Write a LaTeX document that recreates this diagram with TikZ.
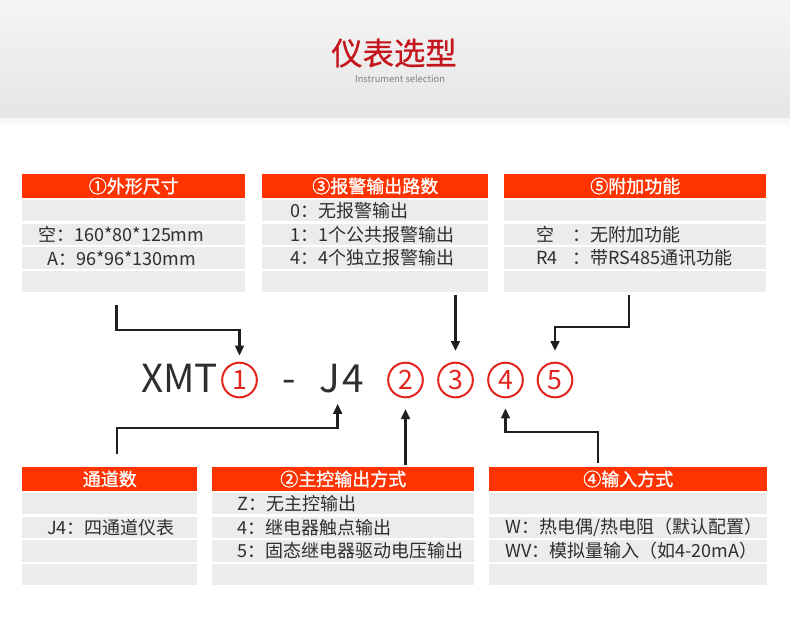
\documentclass[tikz,border=0pt]{standalone}
\usepackage{fontspec}
\setmainfont{Noto Sans CJK SC}
\newfontfamily\selheadfont[FakeBold=1.2]{Noto Sans CJK SC}
\newfontfamily\seltitlefont[FakeBold=0.6]{Noto Sans CJK SC}
\usepackage{tikz}
\usetikzlibrary{positioning,arrows.meta}
\definecolor{hdrred}{HTML}{FF3300}
\definecolor{rowgray}{HTML}{ECECEC}
\definecolor{textdark}{HTML}{2E2E2E}
\definecolor{titlered}{HTML}{C4161C}
\definecolor{subgray}{HTML}{808080}
\definecolor{circred}{HTML}{E3231E}
\definecolor{arrowblack}{HTML}{1F1F1F}

\begin{document}
\begin{tikzpicture}[x=0.75pt, y=-0.75pt,
  selhead/.style={rectangle, fill=hdrred, text=white, minimum height=17.6pt, inner sep=0pt, font={\selheadfont\fontsize{13.5}{15}\selectfont}},
  selrow/.style={rectangle, fill=rowgray, minimum height=16pt, inner sep=0pt},
  seltext/.style={inner sep=0pt, text=textdark, font={\fontsize{13.5}{15}\selectfont}},
  codetext/.style={inner sep=0pt, text=textdark, font={\fontsize{29}{31}\selectfont}},
  codecirc/.style={circle, draw=circred, line width=1.5pt, text=circred, minimum size=26pt, inner sep=0pt, font={\fontsize{20}{22}\selectfont}},
  selarrow/.style={draw=arrowblack, line width=2pt, -{Triangle[length=7.5pt,width=6.5pt]}}
]
\useasboundingbox (0,0) rectangle (790,640);
\fill[top color=gray!8, bottom color=gray!20] (0,0) rectangle (790,118);
\fill[top color=gray!8, bottom color=white] (0,118) rectangle (790,127);
\node[text=titlered, font={\seltitlefont\fontsize{23.5}{26}\selectfont}] (title) at (394,53) {仪表选型};
\node[text=subgray, font={\fontsize{7}{8}\selectfont}] (subtitle) at (400,79) {Instrument selection};

\node[selhead, minimum width=167.25pt, anchor=north west] (hA) at (22,174) {①外形尺寸};
\node[selrow, minimum width=167.25pt, below=1.35pt of hA] (rA1) {};
\node[selrow, minimum width=167.25pt, below=1.35pt of rA1] (rA2) {};
\node[selrow, minimum width=167.25pt, below=1.35pt of rA2] (rA3) {};
\node[selrow, minimum width=167.25pt, below=1.35pt of rA3] (rA4) {};
\node[seltext, right=12pt of rA2.west] (tA2) {空：160*80*125mm};
\node[seltext, right=18.75pt of rA3.west] (tA3) {A：96*96*130mm};

\node[selhead, minimum width=169.5pt, anchor=north west] (hC) at (262,174) {③报警输出路数};
\node[selrow, minimum width=169.5pt, below=1.35pt of hC] (rC1) {};
\node[selrow, minimum width=169.5pt, below=1.35pt of rC1] (rC2) {};
\node[selrow, minimum width=169.5pt, below=1.35pt of rC2] (rC3) {};
\node[selrow, minimum width=169.5pt, below=1.35pt of rC3] (rC4) {};
\node[seltext, right=21pt of rC1.west] (tC1) {0：无报警输出};
\node[seltext, right=21pt of rC2.west] (tC2) {1：1个公共报警输出};
\node[seltext, right=21pt of rC3.west] (tC3) {4：4个独立报警输出};

\node[selhead, minimum width=196.5pt, anchor=north west] (hE) at (504,174) {⑤附加功能};
\node[selrow, minimum width=196.5pt, below=1.35pt of hE] (rE1) {};
\node[selrow, minimum width=196.5pt, below=1.35pt of rE1] (rE2) {};
\node[selrow, minimum width=196.5pt, below=1.35pt of rE2] (rE3) {};
\node[selrow, minimum width=196.5pt, below=1.35pt of rE3] (rE4) {};
\node[seltext, right=24pt of rE2.west] (tE2) {\makebox[27pt][l]{空}：无附加功能};
\node[seltext, right=24pt of rE3.west] (tE3) {\makebox[27pt][l]{R4}：带RS485通讯功能};

\node[selhead, minimum width=131.25pt, anchor=north west] (hB) at (22,467) {通道数};
\node[selrow, minimum width=131.25pt, below=1.35pt of hB] (rB1) {};
\node[selrow, minimum width=131.25pt, below=1.35pt of rB1] (rB2) {};
\node[selrow, minimum width=131.25pt, below=1.35pt of rB2] (rB3) {};
\node[selrow, minimum width=131.25pt, below=1.35pt of rB3] (rB4) {};
\node[seltext, right=18.75pt of rB2.west] (tB2) {J4：四通道仪表};

\node[selhead, minimum width=196.5pt, anchor=north west] (hD) at (212,467) {②主控输出方式};
\node[selrow, minimum width=196.5pt, below=1.35pt of hD] (rD1) {};
\node[selrow, minimum width=196.5pt, below=1.35pt of rD1] (rD2) {};
\node[selrow, minimum width=196.5pt, below=1.35pt of rD2] (rD3) {};
\node[selrow, minimum width=196.5pt, below=1.35pt of rD3] (rD4) {};
\node[seltext, right=18.75pt of rD1.west] (tD1) {Z：无主控输出};
\node[seltext, right=18.75pt of rD2.west] (tD2) {4：继电器触点输出};
\node[seltext, right=18.75pt of rD3.west] (tD3) {5：固态继电器驱动电压输出};

\node[selhead, minimum width=208.5pt, anchor=north west] (hF) at (489,467) {④输入方式};
\node[selrow, minimum width=208.5pt, below=1.35pt of hF] (rF1) {};
\node[selrow, minimum width=208.5pt, below=1.35pt of rF1] (rF2) {};
\node[selrow, minimum width=208.5pt, below=1.35pt of rF2] (rF3) {};
\node[selrow, minimum width=208.5pt, below=1.35pt of rF3] (rF4) {};
\node[seltext, right=12pt of rF2.west] (tF2) {W：热电偶/热电阻（默认配置）};
\node[seltext, right=12pt of rF3.west] (tF3) {WV：模拟量输入（如4-20mA）};

\node[codetext, anchor=base west] (xmt) at (141,392) {XMT};
\node[codetext, anchor=base] (dash) at (289,392) {-};
\node[codetext, anchor=base west] (jfour) at (319,392) {J\hspace{2pt}4};
\node[codecirc] (c1) at (239.5,380) {1};
\node[codecirc] (c2) at (405.5,380) {2};
\node[codecirc] (c3) at (455.5,380) {3};
\node[codecirc] (c4) at (505.5,380) {4};
\node[codecirc] (c5) at (555,380) {5};

\coordinate (sA) at (116.5,305);
\coordinate (kA) at (116.5,330);
\draw[selarrow, shorten >=4.5pt] (sA) -- (kA) -| (c1);
\coordinate (sC) at (455.5,295);
\draw[selarrow, shorten >=8pt] (sC) -- (c3);
\coordinate (sE) at (629,295);
\coordinate (kE) at (629,327);
\draw[selarrow, shorten >=8pt] (sE) -- (kE) -| (c5);
\coordinate (sB) at (117,454);
\coordinate (kB) at (117,428);
\draw[selarrow, shorten >=8.25pt] (sB) -- (kB) -| ([xshift=-3pt]jfour.south);
\coordinate (sD) at (405.5,465);
\draw[selarrow, shorten >=8pt] (sD) -- (c2);
\coordinate (sF) at (598,463);
\coordinate (kF) at (598,432);
\draw[selarrow, shorten >=7.5pt] (sF) -- (kF) -| (c4);
\end{tikzpicture}
\end{document}
